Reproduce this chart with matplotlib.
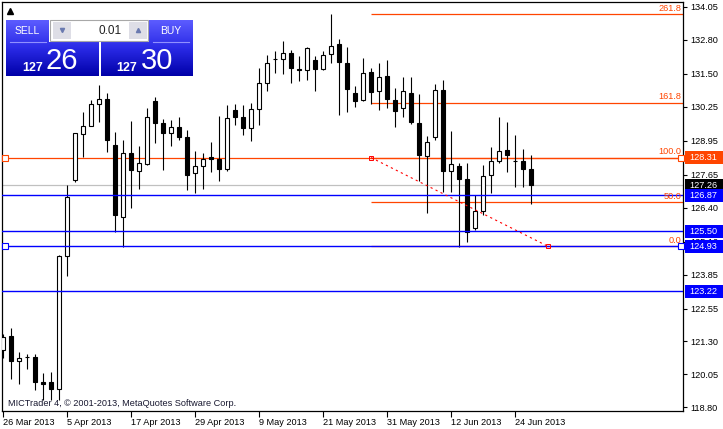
import numpy as np
import matplotlib
matplotlib.use('Agg')
import matplotlib.pyplot as plt
import matplotlib.transforms as mtransforms
from matplotlib.patches import Rectangle
from matplotlib.colors import LinearSegmentedColormap

plt.rcParams['font.family'] = ['Liberation Sans', 'DejaVu Sans']

# daily bars, 26 Mar 2013 .. 27 Jun 2013
OPENS = [120.96, 121.50, 120.54, 120.70, 120.70, 119.74, 119.74, 119.48, 124.55, 127.44,
         129.20, 129.50, 130.34, 130.53, 128.78, 126.03, 128.47, 127.79, 128.05, 130.45,
         129.62, 129.23, 129.46, 129.09, 127.73, 128.00, 128.32, 128.24, 127.89, 130.11,
         129.85, 129.43, 130.15, 131.14, 132.05, 132.06, 132.29, 131.68, 131.64, 132.02,
         131.70, 132.25, 132.63, 131.90, 130.76, 130.49, 131.57, 130.84, 131.41, 130.49,
         130.19, 130.76, 129.62, 128.36, 129.08, 130.87, 127.79, 127.98, 127.48, 125.64,
         126.28, 127.63, 128.17, 128.59, 128.19, 128.17, 127.86]
HIGHS = [121.57, 121.81, 120.90, 120.81, 120.81, 120.09, 120.13, 124.58, 127.26, 129.23,
         130.05, 130.49, 131.07, 130.76, 129.27, 128.97, 129.69, 128.74, 130.19, 130.61,
         129.77, 129.73, 129.85, 129.36, 128.55, 128.47, 128.89, 129.89, 130.30, 130.34,
         130.30, 130.38, 131.71, 132.21, 132.36, 132.74, 132.40, 132.17, 132.51, 132.17,
         132.36, 133.77, 132.82, 132.51, 131.03, 132.11, 131.71, 131.90, 132.02, 130.95,
         131.37, 131.37, 130.72, 129.12, 131.10, 131.26, 129.31, 128.09, 128.09, 126.87,
         128.01, 128.70, 129.85, 129.65, 129.16, 128.62, 128.40]
LOWS = [120.66, 119.88, 119.69, 120.24, 119.44, 119.07, 119.07, 119.07, 123.81, 127.37,
        128.34, 129.50, 129.65, 128.53, 125.48, 124.89, 126.38, 127.10, 128.01, 128.85,
        127.82, 128.74, 128.97, 127.09, 126.97, 127.12, 127.77, 127.43, 127.81, 129.54,
        129.16, 128.93, 129.54, 130.84, 131.52, 131.48, 131.14, 131.22, 131.26, 130.84,
        131.64, 131.90, 129.92, 130.04, 130.23, 130.47, 130.34, 130.12, 130.21, 129.46,
        129.85, 129.58, 127.41, 126.21, 128.97, 126.99, 126.99, 124.91, 125.10, 125.56,
        126.13, 126.97, 128.09, 127.75, 127.20, 127.20, 126.53]
CLOSES = [121.46, 120.54, 120.66, 120.71, 119.74, 119.69, 119.48, 124.55, 126.79, 129.23,
          129.50, 130.34, 130.53, 128.97, 126.11, 128.47, 127.82, 128.09, 129.85, 129.62,
          129.23, 129.46, 129.08, 127.66, 127.98, 128.24, 128.24, 127.89, 129.81, 129.85,
          129.43, 130.15, 131.14, 131.90, 132.07, 132.29, 131.71, 131.66, 132.48, 131.67,
          132.21, 132.55, 131.94, 130.91, 130.45, 131.53, 130.81, 131.37, 130.55, 130.10,
          130.84, 129.65, 128.40, 128.89, 130.87, 127.79, 128.05, 127.48, 125.48, 126.28,
          127.60, 128.17, 128.55, 128.40, 128.17, 127.86, 127.26]

DATE_TICKS = [0, 8, 16, 24, 32, 40, 48, 56, 64]
DATE_LABELS = ['26 Mar 2013', '5 Apr 2013', '17 Apr 2013', '29 Apr 2013', '9 May 2013',
               '21 May 2013', '31 May 2013', '12 Jun 2013', '24 Jun 2013']
PRICE_TICKS = [134.05, 132.80, 131.50, 130.25, 128.95, 127.65, 126.40, 125.10,
               123.85, 122.55, 121.30, 120.05, 118.80]

BID = 127.26
BLUE_LEVELS = [126.87, 125.50, 124.93, 123.22]
RED_LEVEL = 128.31
FIB_LOW, FIB_HIGH = 124.93, 128.31
FIB_LEVELS = [0.0, 50.0, 100.0, 161.8, 261.8]
FIB_START, FIB_END = 46, 68.1

ORANGE = '#ff4500'
BLUE = '#0000ff'

W, H = 723, 429
fig = plt.figure(figsize=(W / 100, H / 100), dpi=100)
fig.patch.set_facecolor('white')
ax = fig.add_axes([2 / W, (H - 411) / H, 681 / W, 409 / H])
ax.set_xlim(-0.125, 85)
ax.set_ylim(118.65, 134.24)

# ── candles ──
o, h, l, c = map(np.array, (OPENS, HIGHS, LOWS, CLOSES))
x = np.arange(len(o))
up = c >= o
ax.vlines(x, l, h, color='black', lw=0.8, zorder=3)
lo = np.minimum(o, c)
hgt = np.maximum(np.abs(c - o), 0.005)
ax.bar(x, hgt, bottom=lo, width=0.6, color=np.where(up, 'white', 'black'),
       edgecolor='black', lw=0.8, zorder=4)

# ── horizontal lines ──
ax.axhline(BID, color='#c0c0c0', lw=0.9, zorder=2)
fib_range = FIB_HIGH - FIB_LOW
tag_tr = mtransforms.blended_transform_factory(ax.transAxes, ax.transData)
for lev in FIB_LEVELS:
    y = FIB_LOW + fib_range * lev / 100
    ax.hlines(y, FIB_START, 85, color=ORANGE, lw=0.9, zorder=2)
    ax.text(0.998, y + 0.05, f'{lev:.1f}', transform=tag_tr,
            ha='right', va='bottom', color=ORANGE, fontsize=6.6, zorder=6)
ax.axhline(RED_LEVEL, color=ORANGE, lw=0.9, zorder=2)
for y in BLUE_LEVELS:
    ax.axhline(y, color=BLUE, lw=1.0, zorder=5)

# selection squares
ax.plot([0.0044, 0.997], [RED_LEVEL, RED_LEVEL], 's', ms=4, mfc='white', mec=ORANGE, mew=0.8,
        transform=tag_tr, zorder=7, clip_on=False)
ax.plot([0.0044, 0.997], [124.93, 124.93], 's', ms=4, mfc='white', mec=BLUE, mew=0.8,
        transform=tag_tr, zorder=7, clip_on=False)

# fibo trend line
ax.plot([FIB_START, FIB_END], [FIB_HIGH, FIB_LOW], color='red', lw=0.8, ls=(0, (2, 3)), zorder=6)
ax.plot([FIB_START, FIB_END], [FIB_HIGH, FIB_LOW], 's', ms=2.5, mfc='none', mec='red', mew=0.7, zorder=6)

ax.text(6 / 681, 0.012, 'MICTrader 4, \u00a9 2001-2013, MetaQuotes Software Corp.',
        transform=ax.transAxes, fontsize=6.6, color='#181830', ha='left', va='baseline')

# ── axes ──
ax.yaxis.tick_right()
ax.set_yticks(PRICE_TICKS)
ax.set_yticklabels([f'{v:.2f}' for v in PRICE_TICKS])
ax.set_xticks(DATE_TICKS)
ax.set_xticklabels(DATE_LABELS)
for lab in ax.get_xticklabels():
    lab.set_ha('left')
ax.tick_params(axis='y', length=3, width=0.8, pad=2, labelsize=6.6)
ax.tick_params(axis='x', length=4, width=0.8, pad=1, labelsize=6.6)
for sp in ax.spines.values():
    sp.set_linewidth(0.9)

# price tags on the scale
px = (134.24 - 118.65) / 409
for val, col in [(RED_LEVEL, ORANGE), (BID, 'black'), (126.87, BLUE), (125.50, BLUE),
                 (124.93, BLUE), (123.22, BLUE)]:
    ax.add_patch(Rectangle((1.003, val - 6.5 * px), 0.06, 13 * px, transform=tag_tr,
                           facecolor=col, edgecolor='none', clip_on=False, zorder=20))
    ax.text(1.0088, val, f'{val:.2f}', transform=tag_tr, color='white', fontsize=6.6,
            ha='left', va='center', clip_on=False, zorder=21)

# ── one-click trading panel ──
ov = fig.add_axes([0, 0, 1, 1], zorder=10)
ov.patch.set_alpha(0)
ov.axis('off')
panel_cmap = LinearSegmentedColormap.from_list('panel', ['#5c5cff', '#2a2ae6', '#0000a8'])


def grad_box(x0, y0, x1, y1):
    ys = np.linspace(y0, y1, 60)
    vals = (ys - 20) / (76 - 20)
    ov.imshow(vals[:, None], extent=(x0, x1, y1, y0), cmap=panel_cmap, vmin=0, vmax=1,
              aspect='auto', origin='upper', interpolation='bilinear', zorder=1)


grad_box(6, 20, 49, 42)
grad_box(6, 42, 99, 76)
grad_box(149, 20, 193, 42)
grad_box(101, 42, 193, 76)
ov.plot([10, 46], [41.7, 41.7], color='#9090ff', lw=0.8, zorder=2)
ov.plot([153, 189], [41.7, 41.7], color='#9090ff', lw=0.8, zorder=2)
ov.add_patch(Rectangle((50, 20), 98, 21, facecolor='white', edgecolor='#a8a8a8', lw=0.8, zorder=2))
ov.add_patch(Rectangle((53, 22), 18, 17, facecolor='#dedee6', edgecolor='none', zorder=3))
ov.add_patch(Rectangle((129, 22), 18, 17, facecolor='#dedee6', edgecolor='none', zorder=3))
ov.plot(62, 29.5, marker='v', ms=3, color='#6a7ab0', zorder=4)
ov.plot(138, 29.5, marker='^', ms=3, color='#6a7ab0', zorder=4)
ov.text(122, 30.5, '0.01', ha='right', va='center', fontsize=8.5, color='#202020', zorder=4)
ov.text(27.5, 31, 'SELL', ha='center', va='center', fontsize=7.5, color='white', zorder=4)
ov.text(171, 31, 'BUY', ha='center', va='center', fontsize=7.5, color='white', zorder=4)
ov.text(22.5, 71, '127', ha='left', va='baseline', fontsize=9, fontweight='bold', color='white', zorder=4)
ov.text(45.5, 69, '26', ha='left', va='baseline', fontsize=21, color='white', zorder=4)
ov.text(116.5, 71, '127', ha='left', va='baseline', fontsize=9, fontweight='bold', color='white', zorder=4)
ov.text(140.5, 69, '30', ha='left', va='baseline', fontsize=21, color='white', zorder=4)
ov.plot(9.5, 11, marker='^', ms=4, color='black', zorder=4)
ov.set_xlim(0, W)
ov.set_ylim(H, 0)

fig.savefig('out.png', dpi=100)
